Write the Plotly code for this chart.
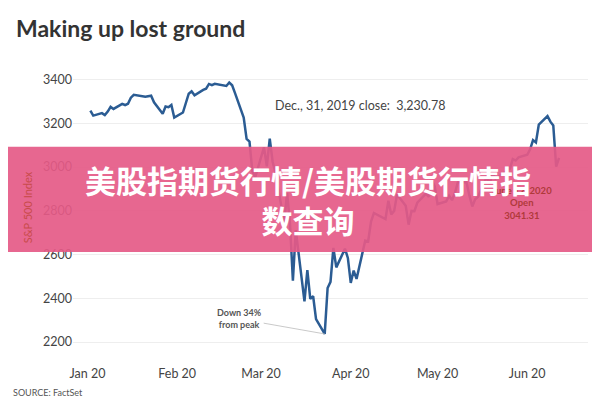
import plotly.graph_objects as go

dates = ["2020-01-02","2020-01-03","2020-01-06","2020-01-07","2020-01-08","2020-01-09","2020-01-10","2020-01-13","2020-01-14","2020-01-15","2020-01-16","2020-01-17","2020-01-21","2020-01-22","2020-01-23","2020-01-24","2020-01-27","2020-01-28","2020-01-29","2020-01-30","2020-01-31",
"2020-02-03","2020-02-04","2020-02-05","2020-02-06","2020-02-07","2020-02-10","2020-02-11","2020-02-12","2020-02-13","2020-02-14","2020-02-18","2020-02-19","2020-02-20","2020-02-21","2020-02-24","2020-02-25","2020-02-26","2020-02-27","2020-02-28",
"2020-03-02","2020-03-03","2020-03-04","2020-03-05","2020-03-06","2020-03-09","2020-03-10","2020-03-11","2020-03-12","2020-03-13","2020-03-16","2020-03-17","2020-03-18","2020-03-19","2020-03-20","2020-03-23","2020-03-24","2020-03-25","2020-03-26","2020-03-27","2020-03-30","2020-03-31",
"2020-04-01","2020-04-02","2020-04-03","2020-04-06","2020-04-07","2020-04-08","2020-04-09","2020-04-13","2020-04-14","2020-04-15","2020-04-16","2020-04-17","2020-04-20","2020-04-21","2020-04-22","2020-04-23","2020-04-24","2020-04-27","2020-04-28","2020-04-29","2020-04-30",
"2020-05-01","2020-05-04","2020-05-05","2020-05-06","2020-05-07","2020-05-08","2020-05-11","2020-05-12","2020-05-13","2020-05-14","2020-05-15","2020-05-18","2020-05-19","2020-05-20","2020-05-21","2020-05-22","2020-05-26","2020-05-27","2020-05-28","2020-05-29",
"2020-06-01","2020-06-02","2020-06-03","2020-06-04","2020-06-05","2020-06-08","2020-06-09","2020-06-10","2020-06-11","2020-06-12"]
values = [3257.85,3234.85,3246.28,3237.18,3253.05,3274.70,3265.35,3288.13,3283.15,3289.29,3316.81,3329.62,3320.79,3321.75,3325.54,3295.47,3243.63,3276.24,3273.40,3283.66,3225.52,
3248.92,3297.59,3334.69,3345.78,3327.71,3352.09,3357.75,3379.45,3373.94,3380.16,3370.29,3386.15,3373.23,3337.75,3225.89,3128.21,3116.39,2978.76,2954.22,
3090.23,3003.37,3130.12,3023.94,2972.37,2746.56,2882.23,2741.38,2480.64,2711.02,2386.13,2529.19,2398.10,2409.39,2304.92,2237.40,2447.33,2475.56,2630.07,2541.47,2626.65,2584.59,
2470.50,2526.90,2488.65,2663.68,2659.41,2749.98,2789.82,2761.63,2846.06,2783.36,2799.55,2874.56,2823.16,2736.56,2799.31,2797.80,2836.74,2878.48,2863.39,2939.51,2912.43,
2830.71,2842.74,2868.44,2848.42,2881.19,2929.80,2930.19,2870.12,2820.00,2852.50,2863.70,2953.91,2922.94,2971.61,2948.51,2955.45,2991.77,3036.13,3029.73,3044.31,
3055.73,3080.82,3122.87,3112.35,3193.93,3232.39,3207.18,3190.14,3002.10,3041.31]
dec31_close = 3230.78
y_ticks = [2200, 2400, 2600, 2800, 3000, 3200, 3400]

fig = go.Figure(go.Scatter(x=dates, y=values, mode="lines",
                           line=dict(color="#2b5c93", width=2.5), hoverinfo="skip"))
fig.add_hline(y=dec31_close, line=dict(color="#999", width=1.2, dash="dot"))
fig.add_annotation(x="2020-03-05", y=dec31_close, text="Dec., 31, 2019 close:  3,230.78",
                   xanchor="left", yanchor="bottom", yshift=1, showarrow=False,
                   font=dict(size=12.5, color="#444", family="Lato"))
fig.add_annotation(x="2020-03-23", y=2237.40, ax=-85, ay=-15, text="<b>Down 34%<br>from peak</b>",
                   showarrow=True, arrowhead=0, arrowwidth=0.8, arrowcolor="#bbb",
                   font=dict(size=9, color="#555", family="Lato"))
fig.add_annotation(x="2020-06-12", y=3041.31, text="<b>June 12, 2020<br>Open<br>3041.31</b>",
                   showarrow=False, xanchor="right", yshift=-45, xshift=-5,
                   font=dict(size=9.5, color="#b03a3a", family="Lato"), align="center")

fig.update_layout(
    width=600, height=400, margin=dict(l=65, r=20, t=43, b=44),
    paper_bgcolor="white", plot_bgcolor="white", showlegend=False,
    xaxis=dict(range=["2019-12-27", "2020-06-22"], tickformat="%b %y", dtick="M1",
               tick0="2020-01-01", showgrid=False, showline=False, ticks="",
               tickfont=dict(size=12.5, color="#444", family="Lato")),
    yaxis=dict(range=[2100, 3530], tickvals=y_ticks, gridcolor="#eee", zeroline=False,
               tickfont=dict(size=12.5, color="#444", family="Lato"), ticks="", ticklen=10,
               title=dict(text="S&P 500 Index", font=dict(size=11, color="#c94b4b", family="Lato"), standoff=8)),
    shapes=[dict(type="rect", xref="paper", yref="paper", x0=-0.3, x1=1.2, y0=0.358, y1=0.694,
                 fillcolor="rgba(229,90,135,0.92)", line_width=0, layer="above")],
)
fig.add_annotation(xref="paper", yref="paper", x=-0.115, y=1.125, xanchor="left", yanchor="top",
                   text="<b>Making up lost ground</b>", showarrow=False,
                   font=dict(size=23, color="#333", family="Lato"))
fig.add_annotation(xref="paper", yref="paper", x=-0.12, y=-0.09, xanchor="left", yanchor="middle",
                   text="SOURCE: FactSet", showarrow=False, font=dict(size=9, color="#555", family="Lato"))
fig.add_annotation(xref="paper", yref="paper", x=0.456, y=0.524, xanchor="center", yanchor="middle",
                   text="<b>美股指期货行情/美股期货行情指<br>数查询</b>", showarrow=False,
                   font=dict(size=31, color="white", family="Noto Sans CJK SC"))
fig.write_html("out.html")
